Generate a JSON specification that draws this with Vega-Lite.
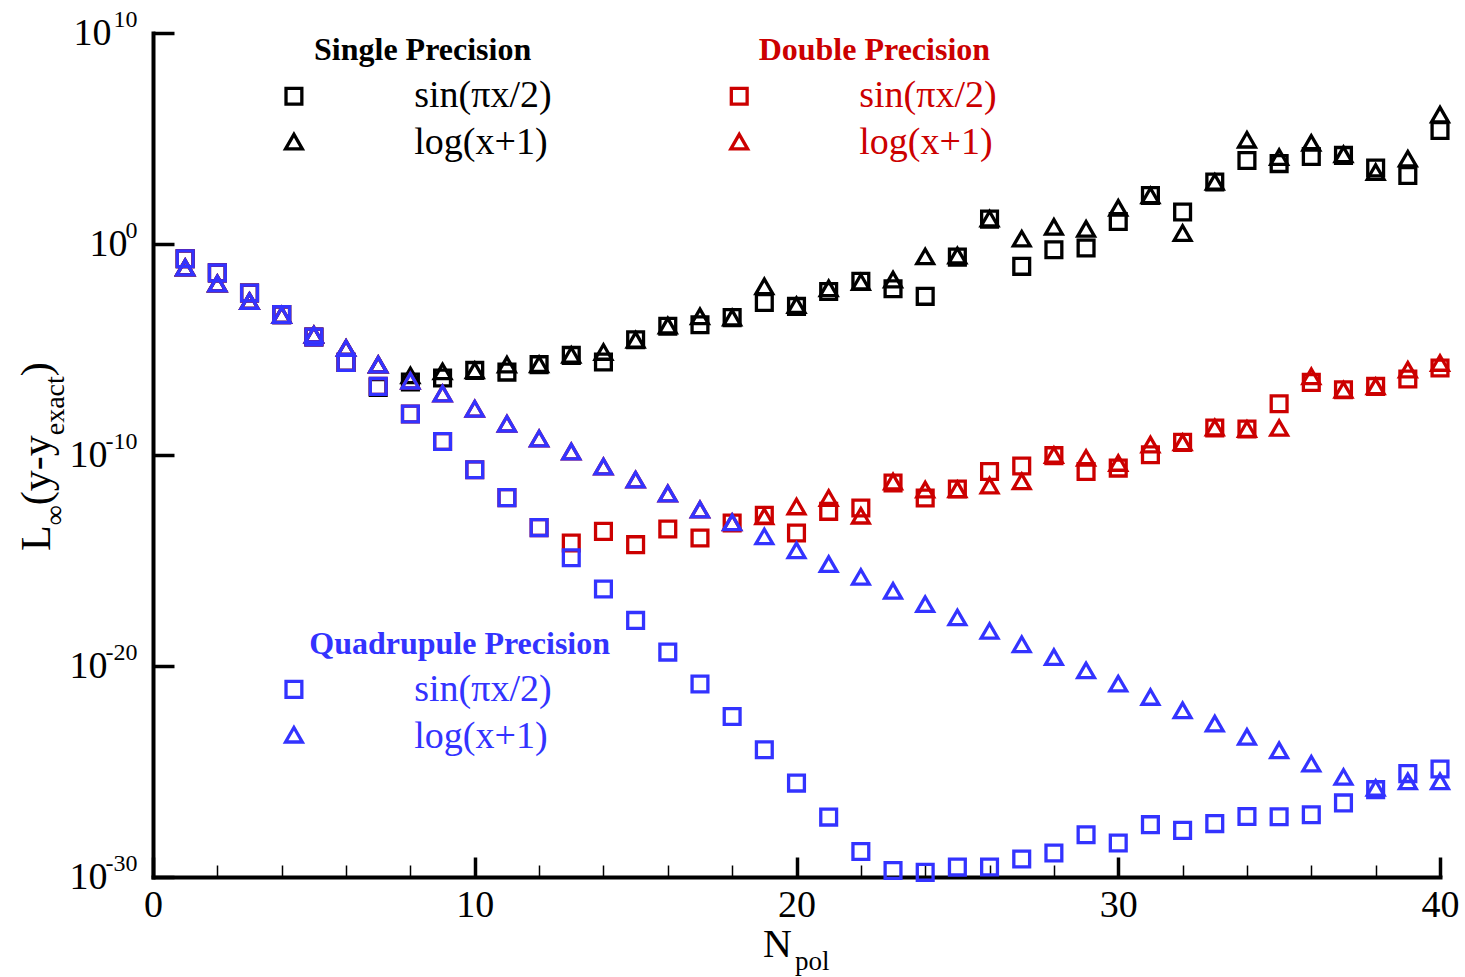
{
  "$schema": "https://vega.github.io/schema/vega-lite/v6.json",
  "width": 1287,
  "height": 844,
  "autosize": "none",
  "padding": {"left": 153, "top": 33, "right": 25, "bottom": 100},
  "background": "white",
  "config": {"view": {"stroke": null}, "font": "Liberation Serif"},
  "data": {"values": [{"k": 0}]},
  "datasets": {
    "errors": [
      {"n": 1, "single_sin": 2.0e-1, "single_log": 7.59e-2, "double_sin": 2.0e-1, "double_log": 7.59e-2, "quad_sin": 2.0e-1, "quad_log": 7.59e-2},
      {"n": 2, "single_sin": 4.27e-2, "single_log": 1.32e-2, "double_sin": 4.27e-2, "double_log": 1.32e-2, "quad_sin": 4.27e-2, "quad_log": 1.32e-2},
      {"n": 3, "single_sin": 4.79e-3, "single_log": 1.95e-3, "double_sin": 4.79e-3, "double_log": 1.95e-3, "quad_sin": 4.79e-3, "quad_log": 1.95e-3},
      {"n": 4, "single_sin": 4.47e-4, "single_log": 4.3e-4, "double_sin": 4.47e-4, "double_log": 4.3e-4, "quad_sin": 4.47e-4, "quad_log": 4.3e-4},
      {"n": 5, "single_sin": 3.89e-5, "single_log": 5.01e-5, "double_sin": 3.89e-5, "double_log": 5.01e-5, "quad_sin": 3.89e-5, "quad_log": 5.01e-5},
      {"n": 6, "single_sin": 2.45e-6, "single_log": 1.15e-5, "double_sin": 2.45e-6, "double_log": 1.15e-5, "quad_sin": 2.45e-6, "quad_log": 1.15e-5},
      {"n": 7, "single_sin": 1.58e-7, "single_log": 1.91e-6, "double_sin": 1.78e-7, "double_log": 1.91e-6, "quad_sin": 1.78e-7, "quad_log": 1.91e-6},
      {"n": 8, "single_sin": 2.88e-7, "single_log": 5.89e-7, "double_sin": 8.71e-9, "double_log": 3.31e-7, "quad_sin": 8.71e-9, "quad_log": 3.31e-7},
      {"n": 9, "single_sin": 4.47e-7, "single_log": 9.12e-7, "double_sin": 4.37e-10, "double_log": 8.13e-8, "quad_sin": 4.37e-10, "quad_log": 8.13e-8},
      {"n": 10, "single_sin": 1.02e-6, "single_log": 1.02e-6, "double_sin": 2.0e-11, "double_log": 1.55e-8, "quad_sin": 2.0e-11, "quad_log": 1.55e-8},
      {"n": 11, "single_sin": 8.51e-7, "single_log": 1.91e-6, "double_sin": 9.55e-13, "double_log": 3.02e-9, "quad_sin": 9.55e-13, "quad_log": 3.02e-9},
      {"n": 12, "single_sin": 1.91e-6, "single_log": 2.0e-6, "double_sin": 3.63e-14, "double_log": 6.03e-10, "quad_sin": 3.63e-14, "quad_log": 6.03e-10},
      {"n": 13, "single_sin": 5.25e-6, "single_log": 5.5e-6, "double_sin": 6.76e-15, "double_log": 1.45e-10, "quad_sin": 1.35e-15, "quad_log": 1.45e-10},
      {"n": 14, "single_sin": 2.57e-6, "single_log": 7.59e-6, "double_sin": 2.4e-14, "double_log": 2.82e-11, "quad_sin": 4.47e-17, "quad_log": 2.82e-11},
      {"n": 15, "single_sin": 2.88e-5, "single_log": 2.88e-5, "double_sin": 5.62e-15, "double_log": 6.76e-12, "quad_sin": 1.45e-18, "quad_log": 6.76e-12},
      {"n": 16, "single_sin": 1.26e-4, "single_log": 1.35e-4, "double_sin": 3.09e-14, "double_log": 1.48e-12, "quad_sin": 4.57e-20, "quad_log": 1.48e-12},
      {"n": 17, "single_sin": 1.48e-4, "single_log": 3.72e-4, "double_sin": 1.17e-14, "double_log": 2.57e-13, "quad_sin": 1.41e-21, "quad_log": 2.57e-13},
      {"n": 18, "single_sin": 3.24e-4, "single_log": 3.24e-4, "double_sin": 6.03e-14, "double_log": 6.46e-14, "quad_sin": 4.07e-23, "quad_log": 6.46e-14},
      {"n": 19, "single_sin": 1.7e-3, "single_log": 9.77e-3, "double_sin": 1.38e-13, "double_log": 1.23e-13, "quad_sin": 1.07e-24, "quad_log": 1.38e-14},
      {"n": 20, "single_sin": 1.1e-3, "single_log": 1.26e-3, "double_sin": 2.0e-14, "double_log": 3.63e-13, "quad_sin": 2.82e-26, "quad_log": 3.02e-15},
      {"n": 21, "single_sin": 5.62e-3, "single_log": 7.94e-3, "double_sin": 2.14e-13, "double_log": 9.12e-13, "quad_sin": 6.92e-28, "quad_log": 6.76e-16},
      {"n": 22, "single_sin": 1.7e-2, "single_log": 1.58e-2, "double_sin": 3.09e-13, "double_log": 1.32e-13, "quad_sin": 1.62e-29, "quad_log": 1.66e-16},
      {"n": 23, "single_sin": 7.59e-3, "single_log": 2.04e-2, "double_sin": 4.68e-12, "double_log": 5.5e-12, "quad_sin": 2.04e-30, "quad_log": 3.63e-17},
      {"n": 24, "single_sin": 3.31e-3, "single_log": 2.57e-1, "double_sin": 9.12e-13, "double_log": 2.29e-12, "quad_sin": 1.66e-30, "quad_log": 8.51e-18},
      {"n": 25, "single_sin": 2.4e-1, "single_log": 2.82e-1, "double_sin": 2.45e-12, "double_log": 2.34e-12, "quad_sin": 2.95e-30, "quad_log": 2.0e-18},
      {"n": 26, "single_sin": 15.1, "single_log": 15.8, "double_sin": 1.66e-11, "double_log": 3.55e-12, "quad_sin": 3.0e-30, "quad_log": 4.57e-19},
      {"n": 27, "single_sin": 8.71e-2, "single_log": 1.78, "double_sin": 3.02e-11, "double_log": 5.62e-12, "quad_sin": 7.08e-30, "quad_log": 1.07e-19},
      {"n": 28, "single_sin": 5.37e-1, "single_log": 6.46, "double_sin": 9.33e-11, "double_log": 1.0e-10, "quad_sin": 1.38e-29, "quad_log": 2.63e-20},
      {"n": 29, "single_sin": 6.46e-1, "single_log": 5.25, "double_sin": 1.66e-11, "double_log": 7.24e-11, "quad_sin": 1.0e-28, "quad_log": 6.17e-21},
      {"n": 30, "single_sin": 11.7, "single_log": 51.3, "double_sin": 2.4e-11, "double_log": 4.17e-11, "quad_sin": 4.07e-29, "quad_log": 1.45e-21},
      {"n": 31, "single_sin": 200, "single_log": 200, "double_sin": 1.02e-10, "double_log": 3.09e-10, "quad_sin": 3.02e-28, "quad_log": 3.39e-22},
      {"n": 32, "single_sin": 33.1, "single_log": 3.31, "double_sin": 3.98e-10, "double_log": 3.98e-10, "quad_sin": 1.62e-28, "quad_log": 7.94e-23},
      {"n": 33, "single_sin": 871, "single_log": 871, "double_sin": 1.91e-9, "double_log": 2.0e-9, "quad_sin": 3.39e-28, "quad_log": 1.86e-23},
      {"n": 34, "single_sin": 9120, "single_log": 87100, "double_sin": 1.7e-9, "double_log": 1.7e-9, "quad_sin": 7.41e-28, "quad_log": 4.37e-24},
      {"n": 35, "single_sin": 6460, "single_log": 13200, "double_sin": 2.69e-8, "double_log": 1.91e-9, "quad_sin": 7.2e-28, "quad_log": 1.0e-24},
      {"n": 36, "single_sin": 14100, "single_log": 61700, "double_sin": 2.75e-7, "double_log": 5.37e-7, "quad_sin": 8.91e-28, "quad_log": 2.34e-25},
      {"n": 37, "single_sin": 15800, "single_log": 17800, "double_sin": 1.23e-7, "double_log": 1.23e-7, "quad_sin": 3.24e-27, "quad_log": 5.5e-26},
      {"n": 38, "single_sin": 3980, "single_log": 2570, "double_sin": 1.78e-7, "double_log": 1.78e-7, "quad_sin": 1.38e-26, "quad_log": 1.66e-26},
      {"n": 39, "single_sin": 1780, "single_log": 11000, "double_sin": 3.98e-7, "double_log": 1.1e-6, "quad_sin": 7.94e-26, "quad_log": 3.39e-26},
      {"n": 40, "single_sin": 240000, "single_log": 1350000, "double_sin": 1.32e-6, "double_log": 2.29e-6, "quad_sin": 1.32e-25, "quad_log": 3.39e-26}
    ],
    "decades": [
      {"v": 1e10, "e": "10"},
      {"v": 1, "e": "0"},
      {"v": 1e-10, "e": "-10"},
      {"v": 1e-20, "e": "-20"},
      {"v": 1e-30, "e": "-30"}
    ]
  },
  "layer": [
    {
      "data": {"name": "errors"},
      "mark": {"type": "point", "shape": "square", "size": 250, "strokeWidth": 3.3, "filled": false, "color": "#000000", "opacity": 1},
      "encoding": {
        "x": {
          "field": "n", "type": "quantitative",
          "scale": {"domain": [0, 40], "nice": false, "zero": false},
          "axis": {
            "values": [0, 2, 4, 6, 8, 10, 12, 14, 16, 18, 20, 22, 24, 26, 28, 30, 32, 34, 36, 38, 40],
            "labelExpr": "datum.value % 10 === 0 ? datum.label : ''",
            "title": null, "grid": false,
            "domainColor": "#000000", "domainWidth": 4, "domainCap": "square",
            "tickColor": "#000000",
            "tickSize": {"condition": {"test": "datum.value % 10 === 0", "value": -20}, "value": -12},
            "tickWidth": {"condition": {"test": "datum.value % 10 === 0", "value": 3.5}, "value": 1.5},
            "labelFont": "Liberation Serif", "labelFontSize": 38, "labelColor": "#000000",
            "labelBaseline": "alphabetic", "labelPadding": 59,
            "labelFlush": false, "labelOverlap": false
          }
        },
        "y": {
          "field": "single_sin", "type": "quantitative",
          "scale": {"type": "log", "domain": [1e-30, 1e10], "nice": false},
          "axis": {
            "values": [1e10, 1, 1e-10, 1e-20, 1e-30],
            "labelExpr": "'10'",
            "title": null, "grid": false,
            "domainColor": "#000000", "domainWidth": 4, "domainCap": "square",
            "tickColor": "#000000", "tickSize": -21, "tickWidth": 3.5,
            "labelFont": "Liberation Serif", "labelFontSize": 38, "labelColor": "#000000",
            "labelAlign": "right", "labelBaseline": "middle",
            "labelPadding": {"condition": [{"test": "datum.value > 1e5", "value": 63}, {"test": "datum.value > 1e-5", "value": 47}], "value": 67},
            "labelFlush": false, "labelOverlap": false
          }
        }
      }
    },
    {
      "data": {"name": "errors"},
      "mark": {"type": "point", "shape": "triangle-up", "size": 280, "strokeWidth": 3.3, "filled": false, "color": "#000000", "opacity": 1},
      "encoding": {
        "x": {"field": "n", "type": "quantitative"},
        "y": {"field": "single_log", "type": "quantitative"}
      }
    },
    {
      "data": {"name": "errors"},
      "mark": {"type": "point", "shape": "square", "size": 250, "strokeWidth": 3.3, "filled": false, "color": "#cc0000", "opacity": 1},
      "encoding": {
        "x": {"field": "n", "type": "quantitative"},
        "y": {"field": "double_sin", "type": "quantitative"}
      }
    },
    {
      "data": {"name": "errors"},
      "mark": {"type": "point", "shape": "triangle-up", "size": 280, "strokeWidth": 3.3, "filled": false, "color": "#cc0000", "opacity": 1},
      "encoding": {
        "x": {"field": "n", "type": "quantitative"},
        "y": {"field": "double_log", "type": "quantitative"}
      }
    },
    {
      "data": {"name": "errors"},
      "mark": {"type": "point", "shape": "square", "size": 250, "strokeWidth": 3.3, "filled": false, "color": "#3333ff", "opacity": 1},
      "encoding": {
        "x": {"field": "n", "type": "quantitative"},
        "y": {"field": "quad_sin", "type": "quantitative"}
      }
    },
    {
      "data": {"name": "errors"},
      "mark": {"type": "point", "shape": "triangle-up", "size": 280, "strokeWidth": 3.3, "filled": false, "color": "#3333ff", "opacity": 1},
      "encoding": {
        "x": {"field": "n", "type": "quantitative"},
        "y": {"field": "quad_log", "type": "quantitative"}
      }
    },
    {
      "data": {"name": "decades"},
      "mark": {"type": "text", "font": "Liberation Serif", "fontSize": 24, "align": "right", "baseline": "alphabetic", "dx": -15.5, "dy": -6, "color": "#000000"},
      "encoding": {
        "x": {"datum": 0, "type": "quantitative"},
        "y": {"field": "v", "type": "quantitative"},
        "text": {"field": "e"}
      }
    },
    {
      "mark": {"type": "text", "font": "Liberation Serif", "fontSize": 42, "angle": 270, "align": "left", "baseline": "alphabetic", "dx": -96, "dy": -103, "color": "#000000", "text": "L"},
      "encoding": {"x": {"datum": 0, "type": "quantitative"}, "y": {"datum": 1e-10, "type": "quantitative"}}
    },
    {
      "mark": {"type": "text", "font": "Liberation Serif", "fontSize": 28, "angle": 270, "align": "left", "baseline": "alphabetic", "dx": -70.3, "dy": -89, "color": "#000000", "text": "∞"},
      "encoding": {"x": {"datum": 0, "type": "quantitative"}, "y": {"datum": 1e-10, "type": "quantitative"}}
    },
    {
      "mark": {"type": "text", "font": "Liberation Serif", "fontSize": 42, "angle": 270, "align": "left", "baseline": "alphabetic", "dx": -50.3, "dy": -103, "color": "#000000", "text": "(y-y"},
      "encoding": {"x": {"datum": 0, "type": "quantitative"}, "y": {"datum": 1e-10, "type": "quantitative"}}
    },
    {
      "mark": {"type": "text", "font": "Liberation Serif", "fontSize": 28, "angle": 270, "align": "left", "baseline": "alphabetic", "dx": 19.7, "dy": -89, "color": "#000000", "text": "exact"},
      "encoding": {"x": {"datum": 0, "type": "quantitative"}, "y": {"datum": 1e-10, "type": "quantitative"}}
    },
    {
      "mark": {"type": "text", "font": "Liberation Serif", "fontSize": 42, "angle": 270, "align": "left", "baseline": "alphabetic", "dx": 78.8, "dy": -103, "color": "#000000", "text": ")"},
      "encoding": {"x": {"datum": 0, "type": "quantitative"}, "y": {"datum": 1e-10, "type": "quantitative"}}
    },
    {
      "mark": {"type": "text", "font": "Liberation Serif", "fontSize": 40, "align": "left", "baseline": "alphabetic", "dx": -33.4, "dy": 79.5, "color": "#000000", "text": "N"},
      "encoding": {"x": {"datum": 20, "type": "quantitative"}, "y": {"datum": 1e-30, "type": "quantitative"}}
    },
    {
      "mark": {"type": "text", "font": "Liberation Serif", "fontSize": 27, "align": "left", "baseline": "alphabetic", "dx": -1.4, "dy": 92.8, "color": "#000000", "text": "pol"},
      "encoding": {"x": {"datum": 20, "type": "quantitative"}, "y": {"datum": 1e-30, "type": "quantitative"}}
    },
    {
      "mark": {"type": "text", "font": "Liberation Serif", "fontSize": 32, "fontWeight": "bold", "align": "center", "baseline": "alphabetic", "color": "#000000", "text": "Single Precision"},
      "encoding": {"x": {"datum": 8.38, "type": "quantitative"}, "y": {"datum": 5.4e8, "type": "quantitative"}}
    },
    {
      "mark": {"type": "point", "shape": "square", "size": 250, "strokeWidth": 3.3, "filled": false, "color": "#000000", "opacity": 1},
      "encoding": {"x": {"datum": 4.38, "type": "quantitative"}, "y": {"datum": 1.0e7, "type": "quantitative"}}
    },
    {
      "mark": {"type": "point", "shape": "triangle-up", "size": 280, "strokeWidth": 3.3, "filled": false, "color": "#000000", "opacity": 1},
      "encoding": {"x": {"datum": 4.38, "type": "quantitative"}, "y": {"datum": 7.1e4, "type": "quantitative"}}
    },
    {
      "mark": {"type": "text", "font": "Liberation Serif", "fontSize": 38, "align": "left", "baseline": "alphabetic", "color": "#000000", "text": "sin(πx/2)"},
      "encoding": {"x": {"datum": 8.12, "type": "quantitative"}, "y": {"datum": 3.0e6, "type": "quantitative"}}
    },
    {
      "mark": {"type": "text", "font": "Liberation Serif", "fontSize": 38, "align": "left", "baseline": "alphabetic", "color": "#000000", "text": "log(x+1)"},
      "encoding": {"x": {"datum": 8.12, "type": "quantitative"}, "y": {"datum": 1.8e4, "type": "quantitative"}}
    },
    {
      "mark": {"type": "text", "font": "Liberation Serif", "fontSize": 32, "fontWeight": "bold", "align": "center", "baseline": "alphabetic", "color": "#cc0000", "text": "Double Precision"},
      "encoding": {"x": {"datum": 22.42, "type": "quantitative"}, "y": {"datum": 5.4e8, "type": "quantitative"}}
    },
    {
      "mark": {"type": "point", "shape": "square", "size": 250, "strokeWidth": 3.3, "filled": false, "color": "#cc0000", "opacity": 1},
      "encoding": {"x": {"datum": 18.22, "type": "quantitative"}, "y": {"datum": 1.0e7, "type": "quantitative"}}
    },
    {
      "mark": {"type": "point", "shape": "triangle-up", "size": 280, "strokeWidth": 3.3, "filled": false, "color": "#cc0000", "opacity": 1},
      "encoding": {"x": {"datum": 18.22, "type": "quantitative"}, "y": {"datum": 7.1e4, "type": "quantitative"}}
    },
    {
      "mark": {"type": "text", "font": "Liberation Serif", "fontSize": 38, "align": "left", "baseline": "alphabetic", "color": "#cc0000", "text": "sin(πx/2)"},
      "encoding": {"x": {"datum": 21.95, "type": "quantitative"}, "y": {"datum": 3.0e6, "type": "quantitative"}}
    },
    {
      "mark": {"type": "text", "font": "Liberation Serif", "fontSize": 38, "align": "left", "baseline": "alphabetic", "color": "#cc0000", "text": "log(x+1)"},
      "encoding": {"x": {"datum": 21.95, "type": "quantitative"}, "y": {"datum": 1.8e4, "type": "quantitative"}}
    },
    {
      "mark": {"type": "text", "font": "Liberation Serif", "fontSize": 32, "fontWeight": "bold", "align": "center", "baseline": "alphabetic", "color": "#3333ff", "text": "Quadrupule Precision"},
      "encoding": {"x": {"datum": 9.53, "type": "quantitative"}, "y": {"datum": 3.8e-20, "type": "quantitative"}}
    },
    {
      "mark": {"type": "point", "shape": "square", "size": 250, "strokeWidth": 3.3, "filled": false, "color": "#3333ff", "opacity": 1},
      "encoding": {"x": {"datum": 4.38, "type": "quantitative"}, "y": {"datum": 7.8e-22, "type": "quantitative"}}
    },
    {
      "mark": {"type": "point", "shape": "triangle-up", "size": 280, "strokeWidth": 3.3, "filled": false, "color": "#3333ff", "opacity": 1},
      "encoding": {"x": {"datum": 4.38, "type": "quantitative"}, "y": {"datum": 5.5e-24, "type": "quantitative"}}
    },
    {
      "mark": {"type": "text", "font": "Liberation Serif", "fontSize": 38, "align": "left", "baseline": "alphabetic", "color": "#3333ff", "text": "sin(πx/2)"},
      "encoding": {"x": {"datum": 8.12, "type": "quantitative"}, "y": {"datum": 2.1e-22, "type": "quantitative"}}
    },
    {
      "mark": {"type": "text", "font": "Liberation Serif", "fontSize": 38, "align": "left", "baseline": "alphabetic", "color": "#3333ff", "text": "log(x+1)"},
      "encoding": {"x": {"datum": 8.12, "type": "quantitative"}, "y": {"datum": 1.26e-24, "type": "quantitative"}}
    }
  ]
}
